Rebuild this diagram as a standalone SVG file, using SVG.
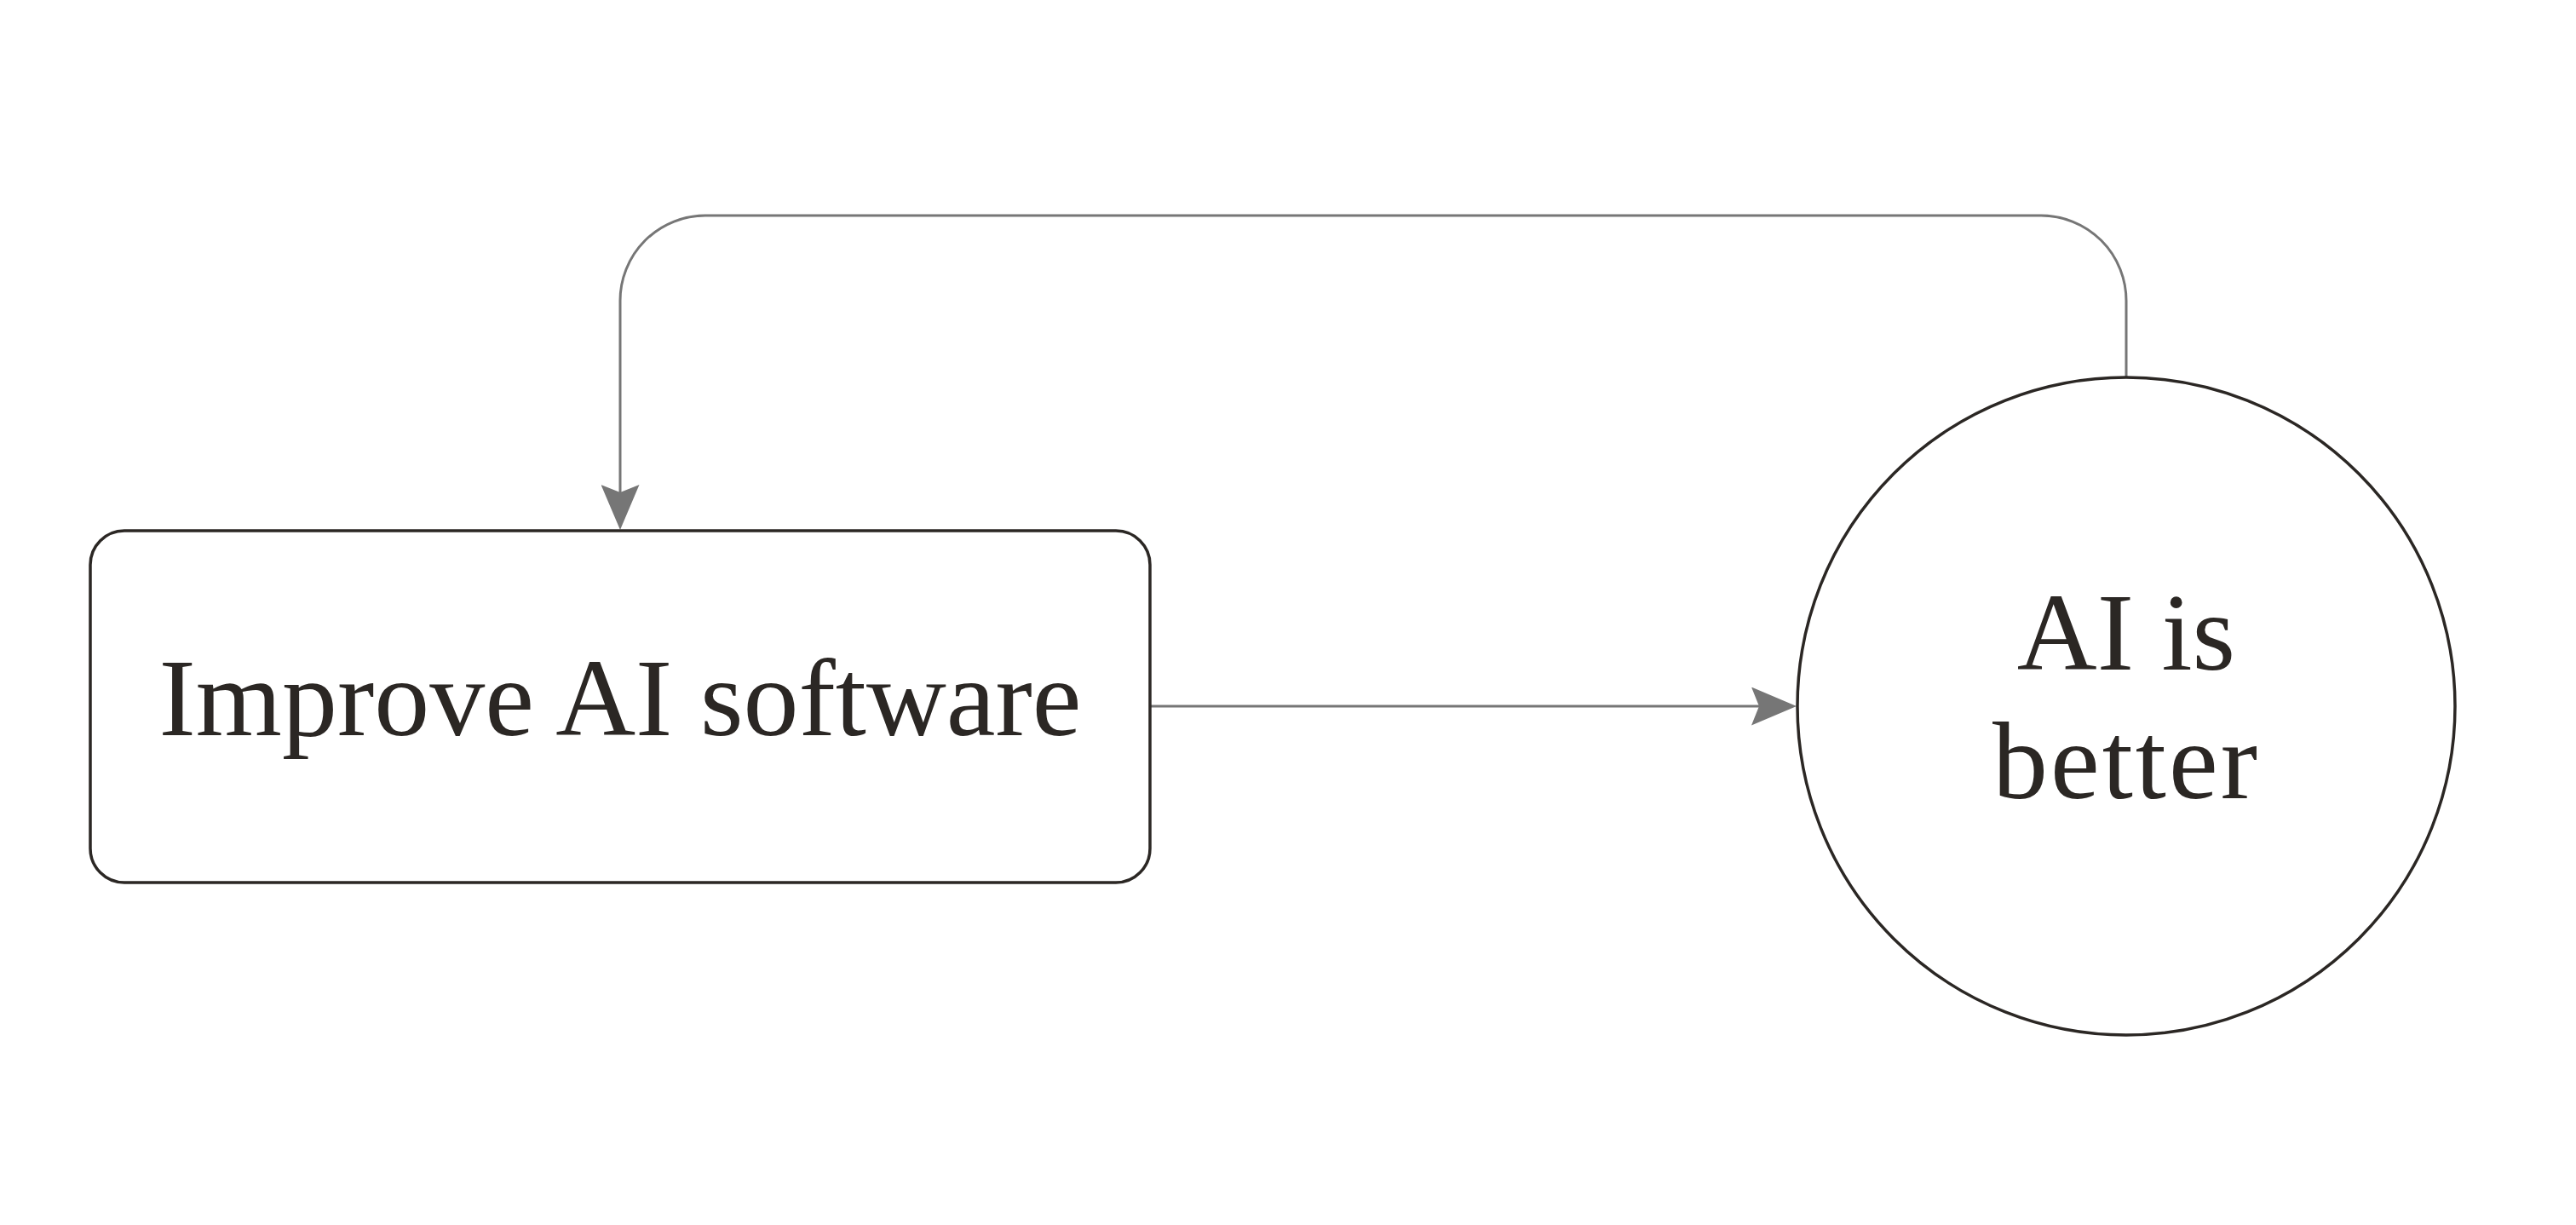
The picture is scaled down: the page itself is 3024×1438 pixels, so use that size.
<svg xmlns="http://www.w3.org/2000/svg" width="3024" height="1438" viewBox="0 0 3024 1438">
<style>
.node{fill:#ffffff;stroke:#2b2724;stroke-width:3.5}
.label{font-family:"Liberation Serif","DejaVu Serif",serif;font-size:130px;fill:#2b2724;text-anchor:middle}
.edge{fill:none;stroke:#767676;stroke-width:3}
</style>
<defs>
<marker id="arrow" viewBox="0 0 53 45" refX="9" refY="22.5" markerWidth="53" markerHeight="45" markerUnits="userSpaceOnUse" orient="auto">
<path d="M0,0 L53,22.5 L0,45 L9,22.5 Z" fill="#767676"/>
</marker>
</defs>
<rect width="3024" height="1438" fill="#ffffff"/>
<g id="connectors">
<path class="edge" d="M1350,829 H2065" marker-end="url(#arrow)"/>
<path class="edge" d="M2496,443 V353 A100,100 0 0 0 2396,253 H828 A100,100 0 0 0 728,353 V578" marker-end="url(#arrow)"/>
</g>
<g id="node-improve">
<rect class="node" x="106" y="623" width="1244" height="413" rx="40" ry="40"/>
<text class="label" x="728" y="863">Improve AI software</text>
</g>
<g id="node-better">
<circle class="node" cx="2496" cy="829" r="386"/>
<text class="label" x="2496" y="786">AI is</text>
<text class="label" x="2496" y="937" letter-spacing="3">better</text>
</g>
</svg>
